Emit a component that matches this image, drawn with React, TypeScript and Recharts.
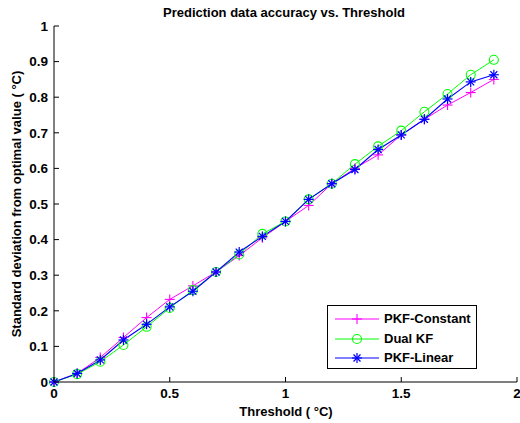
import { LineChart, Line, XAxis, YAxis, Label } from 'recharts';

// threshold values (°C) on the x axis
const thresholds = [0, 0.1, 0.2, 0.3, 0.4, 0.5, 0.6, 0.7, 0.8, 0.9, 1.0, 1.1, 1.2, 1.3, 1.4, 1.5, 1.6, 1.7, 1.8, 1.9];

// standard deviation from optimal value
const pkfConstant = [0, 0.024, 0.069, 0.125, 0.181, 0.232, 0.27, 0.309, 0.355, 0.405, 0.451, 0.496, 0.557, 0.6, 0.638, 0.694, 0.738, 0.778, 0.813, 0.85];
const dualKF = [0, 0.022, 0.057, 0.104, 0.155, 0.208, 0.258, 0.309, 0.358, 0.416, 0.451, 0.513, 0.557, 0.612, 0.662, 0.706, 0.759, 0.809, 0.863, 0.905];
const pkfLinear = [0, 0.024, 0.062, 0.118, 0.162, 0.211, 0.255, 0.309, 0.365, 0.409, 0.451, 0.513, 0.557, 0.597, 0.653, 0.694, 0.738, 0.795, 0.843, 0.863];

const xTicks = [0, 0.5, 1, 1.5, 2];
const yTicks = [0, 0.1, 0.2, 0.3, 0.4, 0.5, 0.6, 0.7, 0.8, 0.9, 1];

const data = thresholds.map((t, i) => ({
    t,
    pkfConstant: pkfConstant[i],
    dualKF: dualKF[i],
    pkfLinear: pkfLinear[i],
}));

const FONT = '"Liberation Sans", Arial, Helvetica, sans-serif';
const TICK = 5;
const MAGENTA = '#ff00ff';
const GREEN = '#00ff00';
const BLUE = '#0000ff';

const textStyle = { fontFamily: FONT, fontWeight: 700, fontSize: 13, fill: '#000' };
const tickStyle = { ...textStyle, fontSize: 13.5 };

// ticks point inward like matlab
const BottomTick = ({ x, y, payload }: any) => (
    <g>
        <line x1={x} y1={y} x2={x} y2={y - TICK} stroke="#000" />
        <text x={x} y={y + 16} textAnchor="middle" style={tickStyle}>{payload.value}</text>
    </g>
);
const TopTick = ({ x, y }: any) => <line x1={x} y1={y} x2={x} y2={y + TICK} stroke="#000" />;
const LeftTick = ({ x, y, payload }: any) => (
    <g>
        <line x1={x} y1={y} x2={x + TICK} y2={y} stroke="#000" />
        <text x={x - 6} y={y} dy="0.36em" textAnchor="end" style={tickStyle}>{payload.value}</text>
    </g>
);
const RightTick = ({ x, y }: any) => <line x1={x} y1={y} x2={x - TICK} y2={y} stroke="#000" />;

const PlusDot = ({ cx, cy, stroke }: any) => (
    <g stroke={stroke} strokeWidth={1.1}>
        <line x1={cx - 5} y1={cy} x2={cx + 5} y2={cy} />
        <line x1={cx} y1={cy - 5} x2={cx} y2={cy + 5} />
    </g>
);
const CircleDot = ({ cx, cy, stroke }: any) => (
    <circle cx={cx} cy={cy} r={4.5} fill="none" stroke={stroke} strokeWidth={1.1} />
);
const StarDot = ({ cx, cy, stroke }: any) => (
    <g stroke={stroke} strokeWidth={1.2}>
        <line x1={cx - 5} y1={cy} x2={cx + 5} y2={cy} />
        <line x1={cx} y1={cy - 5} x2={cx} y2={cy + 5} />
        <line x1={cx - 3.5} y1={cy - 3.5} x2={cx + 3.5} y2={cy + 3.5} />
        <line x1={cx - 3.5} y1={cy + 3.5} x2={cx + 3.5} y2={cy - 3.5} />
    </g>
);

const legendItems = [
    { name: 'PKF-Constant', color: MAGENTA, Dot: PlusDot },
    { name: 'Dual KF', color: GREEN, Dot: CircleDot },
    { name: 'PKF-Linear', color: BLUE, Dot: StarDot },
];

export default function App() {
    return (
        <div style={{ position: 'absolute', left: 0, top: 0, width: 520, height: 423, background: '#fff' }}>
            <LineChart width={520} height={423} data={data} margin={{ top: 26, right: 3, bottom: 0, left: 0 }}>
                <XAxis
                    xAxisId="bottom"
                    dataKey="t"
                    type="number"
                    domain={[0, 2]}
                    ticks={xTicks}
                    height={41}
                    tickSize={0}
                    tickMargin={0}
                    tickLine={false}
                    tick={<BottomTick />}
                    stroke="#000"
                    interval={0}
                >
                    <Label
                        content={() => (
                            <g>
                                <text x={284} y={17} textAnchor="middle" style={textStyle}>Prediction data accuracy vs. Threshold</text>
                                <text x={286} y={416} textAnchor="middle" style={textStyle}>Threshold ( °C)</text>
                                <text x={21} y={204} textAnchor="middle" transform="rotate(-90, 21, 204)" style={textStyle}>
                                    Standard deviation from optimal value ( °C)
                                </text>
                            </g>
                        )}
                    />
                </XAxis>
                <XAxis
                    xAxisId="top"
                    dataKey="t"
                    type="number"
                    orientation="top"
                    domain={[0, 2]}
                    ticks={xTicks}
                    height={0}
                    tickSize={0}
                    tickMargin={0}
                    tickLine={false}
                    tick={<TopTick />}
                    stroke="#000"
                    interval={0}
                />
                <YAxis
                    yAxisId="left"
                    type="number"
                    domain={[0, 1]}
                    ticks={yTicks}
                    width={54}
                    tickSize={0}
                    tickMargin={0}
                    tickLine={false}
                    tick={<LeftTick />}
                    stroke="#000"
                    interval={0}
                />
                <YAxis
                    yAxisId="right"
                    type="number"
                    orientation="right"
                    domain={[0, 1]}
                    ticks={yTicks}
                    width={0}
                    tickSize={0}
                    tickMargin={0}
                    tickLine={false}
                    tick={<RightTick />}
                    stroke="#000"
                    interval={0}
                />
                <Line xAxisId="bottom" yAxisId="left" type="linear" dataKey="pkfConstant" stroke={MAGENTA} strokeWidth={1} dot={<PlusDot />} isAnimationActive={false} />
                <Line xAxisId="bottom" yAxisId="left" type="linear" dataKey="dualKF" stroke={GREEN} strokeWidth={1} dot={<CircleDot />} isAnimationActive={false} />
                <Line xAxisId="bottom" yAxisId="left" type="linear" dataKey="pkfLinear" stroke={BLUE} strokeWidth={1.1} dot={<StarDot />} isAnimationActive={false} />
            </LineChart>

            {/* legend box, lower right like the matlab figure */}
            <div
                style={{
                    position: 'absolute',
                    left: 327,
                    top: 305,
                    width: 148,
                    height: 62,
                    border: '1px solid #000',
                    background: '#fff',
                    fontFamily: FONT,
                    fontWeight: 700,
                    fontSize: 13,
                }}
            >
                {legendItems.map(({ name, color, Dot }, i) => (
                    <div key={name} style={{ position: 'absolute', left: 7, top: 4 + i * 19.5, height: 18, display: 'flex', alignItems: 'center' }}>
                        <svg width={44} height={18} style={{ display: 'block' }}>
                            <line x1={0} y1={9} x2={44} y2={9} stroke={color} strokeWidth={1} />
                            <Dot cx={22} cy={9} stroke={color} />
                        </svg>
                        <span style={{ marginLeft: 5, lineHeight: '18px' }}>{name}</span>
                    </div>
                ))}
            </div>
        </div>
    );
}
